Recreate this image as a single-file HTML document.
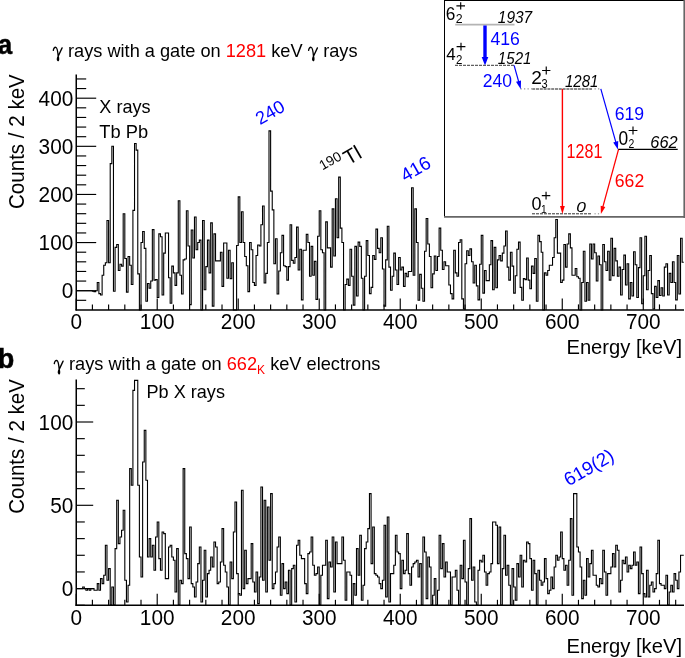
<!DOCTYPE html>
<html><head><meta charset="utf-8"><title>spectra</title>
<style>html,body{margin:0;padding:0;background:#fff;width:685px;height:658px;overflow:hidden}svg{display:block;will-change:transform}</style>
</head><body>
<svg width="685" height="658" viewBox="0 0 685 658">
<style>
text{font-family:"Liberation Sans", sans-serif;}
.ax{stroke:#000;stroke-width:1.15;fill:none}
.lab{font-size:20.8px}
.h{stroke:#000;stroke-width:1.1;fill:none}
.g{font-family:"Liberation Serif",serif;font-style:italic;font-size:20px}
</style><text transform="translate(-2,54.4) scale(0.93,1)" style="font-size:27.4px;font-weight:bold" stroke="#000" stroke-width="0.5">a</text><path transform="translate(53,56.8)" d="M0.3,-6.4 C0.6,-8.6 1.6,-9.7 2.8,-9.5 C4.3,-9.2 4.8,-5.5 5.2,-0.6 M9.1,-8.9 L5.2,-0.6 C4.4,1.2 4.2,3.2 4.9,3.7 C5.6,4.1 5.9,2.0 5.2,-0.6" stroke="#000" stroke-width="1.35" fill="none" stroke-linecap="round"/><text x="68" y="56.8" style="font-size:18.2px">rays with a gate on <tspan fill="#ff0000">1281</tspan> keV</text><path transform="translate(308.3,56.8)" d="M0.3,-6.4 C0.6,-8.6 1.6,-9.7 2.8,-9.5 C4.3,-9.2 4.8,-5.5 5.2,-0.6 M9.1,-8.9 L5.2,-0.6 C4.4,1.2 4.2,3.2 4.9,3.7 C5.6,4.1 5.9,2.0 5.2,-0.6" stroke="#000" stroke-width="1.35" fill="none" stroke-linecap="round"/><text x="323.2" y="56.8" style="font-size:18.2px">rays</text><path class="h" d="M76.20,290.70 L77.82,290.70 L77.82,290.70 L79.44,290.70 L79.44,290.70 L81.06,290.70 L81.06,290.70 L82.68,290.70 L82.68,290.70 L84.30,290.70 L84.30,290.70 L85.92,290.70 L85.92,290.70 L87.54,290.70 L87.54,290.70 L89.16,290.70 L89.16,290.70 L90.78,290.70 L90.78,290.70 L92.40,290.70 L92.40,291.18 L94.02,291.18 L94.02,291.66 L95.64,291.66 L95.64,290.70 L97.26,290.70 L97.26,282.52 L98.88,282.52 L98.88,293.59 L100.50,293.59 L100.50,295.03 L102.12,295.03 L102.12,275.30 L103.74,275.30 L103.74,265.19 L105.36,265.19 L105.36,262.79 L106.98,262.79 L106.98,220.44 L108.60,220.44 L108.60,262.79 L110.22,262.79 L110.22,163.65 L111.84,163.65 L111.84,146.32 L113.46,146.32 L113.46,291.18 L115.08,291.18 L115.08,247.39 L116.71,247.39 L116.71,244.50 L118.33,244.50 L118.33,270.49 L119.95,270.49 L119.95,264.23 L121.57,264.23 L121.57,266.16 L123.19,266.16 L123.19,213.70 L124.81,213.70 L124.81,258.46 L126.43,258.46 L126.43,292.14 L128.05,292.14 L128.05,256.53 L129.67,256.53 L129.67,265.19 L131.29,265.19 L131.29,284.44 L132.91,284.44 L132.91,210.33 L134.53,210.33 L134.53,143.44 L136.15,143.44 L136.15,150.17 L137.77,150.17 L137.77,273.86 L139.39,273.86 L139.39,309.95 L141.01,309.95 L141.01,242.57 L142.63,242.57 L142.63,231.51 L144.25,231.51 L144.25,248.35 L145.87,248.35 L145.87,301.29 L147.49,301.29 L147.49,283.48 L149.11,283.48 L149.11,288.29 L150.73,288.29 L150.73,281.07 L152.35,281.07 L152.35,229.58 L153.97,229.58 L153.97,280.11 L155.59,280.11 L155.59,279.63 L157.21,279.63 L157.21,297.44 L158.83,297.44 L158.83,233.91 L160.45,233.91 L160.45,236.80 L162.07,236.80 L162.07,295.03 L163.69,295.03 L163.69,253.16 L165.31,253.16 L165.31,232.95 L166.93,232.95 L166.93,232.95 L168.55,232.95 L168.55,277.71 L170.17,277.71 L170.17,303.21 L171.79,303.21 L171.79,266.16 L173.41,266.16 L173.41,272.89 L175.03,272.89 L175.03,285.41 L176.65,285.41 L176.65,272.89 L178.27,272.89 L178.27,200.71 L179.89,200.71 L179.89,275.30 L181.51,275.30 L181.51,294.07 L183.13,294.07 L183.13,259.90 L184.75,259.90 L184.75,258.94 L186.37,258.94 L186.37,210.81 L187.99,210.81 L187.99,245.94 L189.61,245.94 L189.61,304.66 L191.23,304.66 L191.23,230.06 L192.85,230.06 L192.85,257.97 L194.47,257.97 L194.47,217.07 L196.09,217.07 L196.09,249.79 L197.72,249.79 L197.72,242.57 L199.34,242.57 L199.34,240.17 L200.96,240.17 L200.96,309.95 L202.58,309.95 L202.58,220.44 L204.20,220.44 L204.20,289.74 L205.82,289.74 L205.82,266.64 L207.44,266.64 L207.44,240.17 L209.06,240.17 L209.06,272.89 L210.68,272.89 L210.68,222.84 L212.30,222.84 L212.30,306.10 L213.92,306.10 L213.92,233.91 L215.54,233.91 L215.54,260.86 L217.16,260.86 L217.16,260.86 L218.78,260.86 L218.78,260.86 L220.40,260.86 L220.40,252.20 L222.02,252.20 L222.02,286.37 L223.64,286.37 L223.64,243.06 L225.26,243.06 L225.26,243.06 L226.88,243.06 L226.88,278.19 L228.50,278.19 L228.50,250.27 L230.12,250.27 L230.12,278.67 L231.74,278.67 L231.74,262.79 L233.36,262.79 L233.36,309.95 L234.98,309.95 L234.98,309.95 L236.60,309.95 L236.60,245.46 L238.22,245.46 L238.22,196.86 L239.84,196.86 L239.84,242.57 L241.46,242.57 L241.46,211.77 L243.08,211.77 L243.08,242.57 L244.70,242.57 L244.70,256.53 L246.32,256.53 L246.32,265.68 L247.94,265.68 L247.94,291.66 L249.56,291.66 L249.56,242.57 L251.18,242.57 L251.18,249.79 L252.80,249.79 L252.80,282.52 L254.42,282.52 L254.42,285.41 L256.04,285.41 L256.04,255.57 L257.66,255.57 L257.66,244.98 L259.28,244.98 L259.28,245.94 L260.90,245.94 L260.90,224.77 L262.52,224.77 L262.52,206.00 L264.14,206.00 L264.14,283.00 L265.76,283.00 L265.76,273.38 L267.38,273.38 L267.38,242.57 L269.00,242.57 L269.00,130.92 L270.62,130.92 L270.62,191.08 L272.24,191.08 L272.24,209.85 L273.86,209.85 L273.86,263.75 L275.48,263.75 L275.48,238.72 L277.10,238.72 L277.10,294.07 L278.73,294.07 L278.73,270.97 L280.35,270.97 L280.35,252.68 L281.97,252.68 L281.97,235.36 L283.59,235.36 L283.59,265.68 L285.21,265.68 L285.21,266.64 L286.83,266.64 L286.83,280.11 L288.45,280.11 L288.45,266.64 L290.07,266.64 L290.07,224.77 L291.69,224.77 L291.69,260.38 L293.31,260.38 L293.31,263.27 L294.93,263.27 L294.93,257.49 L296.55,257.49 L296.55,227.17 L298.17,227.17 L298.17,270.01 L299.79,270.01 L299.79,249.31 L301.41,249.31 L301.41,299.84 L303.03,299.84 L303.03,250.27 L304.65,250.27 L304.65,250.27 L306.27,250.27 L306.27,234.39 L307.89,234.39 L307.89,242.57 L309.51,242.57 L309.51,276.26 L311.13,276.26 L311.13,246.42 L312.75,246.42 L312.75,275.30 L314.37,275.30 L314.37,261.34 L315.99,261.34 L315.99,299.36 L317.61,299.36 L317.61,236.32 L319.23,236.32 L319.23,210.81 L320.85,210.81 L320.85,249.79 L322.47,249.79 L322.47,252.68 L324.09,252.68 L324.09,309.95 L325.71,309.95 L325.71,221.88 L327.33,221.88 L327.33,247.87 L328.95,247.87 L328.95,247.87 L330.57,247.87 L330.57,267.12 L332.19,267.12 L332.19,208.89 L333.81,208.89 L333.81,256.05 L335.43,256.05 L335.43,198.78 L337.05,198.78 L337.05,237.76 L338.67,237.76 L338.67,177.12 L340.29,177.12 L340.29,228.14 L341.91,228.14 L341.91,242.57 L343.53,242.57 L343.53,309.95 L345.15,309.95 L345.15,284.44 L346.77,284.44 L346.77,279.15 L348.39,279.15 L348.39,285.41 L350.01,285.41 L350.01,249.31 L351.63,249.31 L351.63,276.26 L353.25,276.26 L353.25,305.14 L354.87,305.14 L354.87,246.42 L356.49,246.42 L356.49,295.99 L358.11,295.99 L358.11,242.09 L359.74,242.09 L359.74,246.42 L361.36,246.42 L361.36,278.19 L362.98,278.19 L362.98,309.95 L364.60,309.95 L364.60,276.26 L366.22,276.26 L366.22,240.65 L367.84,240.65 L367.84,255.57 L369.46,255.57 L369.46,293.59 L371.08,293.59 L371.08,287.33 L372.70,287.33 L372.70,255.57 L374.32,255.57 L374.32,259.42 L375.94,259.42 L375.94,229.10 L377.56,229.10 L377.56,248.35 L379.18,248.35 L379.18,252.68 L380.80,252.68 L380.80,237.76 L382.42,237.76 L382.42,269.04 L384.04,269.04 L384.04,306.10 L385.66,306.10 L385.66,259.90 L387.28,259.90 L387.28,226.21 L388.90,226.21 L388.90,267.12 L390.52,267.12 L390.52,290.22 L392.14,290.22 L392.14,276.26 L393.76,276.26 L393.76,253.16 L395.38,253.16 L395.38,270.01 L397.00,270.01 L397.00,284.44 L398.62,284.44 L398.62,257.49 L400.24,257.49 L400.24,270.01 L401.86,270.01 L401.86,267.12 L403.48,267.12 L403.48,286.37 L405.10,286.37 L405.10,273.38 L406.72,273.38 L406.72,276.74 L408.34,276.74 L408.34,271.45 L409.96,271.45 L409.96,271.45 L411.58,271.45 L411.58,187.71 L413.20,187.71 L413.20,275.30 L414.82,275.30 L414.82,208.89 L416.44,208.89 L416.44,242.57 L418.06,242.57 L418.06,300.32 L419.68,300.32 L419.68,274.34 L421.30,274.34 L421.30,288.29 L422.92,288.29 L422.92,301.29 L424.54,301.29 L424.54,251.24 L426.16,251.24 L426.16,218.51 L427.78,218.51 L427.78,244.02 L429.40,244.02 L429.40,256.53 L431.02,256.53 L431.02,287.81 L432.64,287.81 L432.64,273.86 L434.26,273.86 L434.26,256.05 L435.88,256.05 L435.88,270.49 L437.50,270.49 L437.50,256.53 L439.12,256.53 L439.12,228.14 L440.75,228.14 L440.75,250.27 L442.37,250.27 L442.37,269.52 L443.99,269.52 L443.99,261.82 L445.61,261.82 L445.61,265.68 L447.23,265.68 L447.23,265.68 L448.85,265.68 L448.85,284.93 L450.47,284.93 L450.47,293.59 L452.09,293.59 L452.09,298.88 L453.71,298.88 L453.71,250.27 L455.33,250.27 L455.33,272.89 L456.95,272.89 L456.95,276.26 L458.57,276.26 L458.57,242.57 L460.19,242.57 L460.19,239.69 L461.81,239.69 L461.81,298.88 L463.43,298.88 L463.43,308.99 L465.05,308.99 L465.05,263.75 L466.67,263.75 L466.67,250.76 L468.29,250.76 L468.29,255.57 L469.91,255.57 L469.91,248.83 L471.53,248.83 L471.53,261.82 L473.15,261.82 L473.15,283.00 L474.77,283.00 L474.77,265.19 L476.39,265.19 L476.39,285.89 L478.01,285.89 L478.01,299.84 L479.63,299.84 L479.63,264.23 L481.25,264.23 L481.25,235.36 L482.87,235.36 L482.87,293.11 L484.49,293.11 L484.49,270.49 L486.11,270.49 L486.11,280.59 L487.73,280.59 L487.73,280.59 L489.35,280.59 L489.35,264.71 L490.97,264.71 L490.97,240.65 L492.59,240.65 L492.59,289.74 L494.21,289.74 L494.21,247.39 L495.83,247.39 L495.83,287.81 L497.45,287.81 L497.45,259.90 L499.07,259.90 L499.07,255.57 L500.69,255.57 L500.69,260.86 L502.31,260.86 L502.31,253.16 L503.93,253.16 L503.93,245.94 L505.55,245.94 L505.55,231.02 L507.17,231.02 L507.17,267.12 L508.79,267.12 L508.79,280.11 L510.41,280.11 L510.41,252.20 L512.03,252.20 L512.03,266.16 L513.65,266.16 L513.65,293.11 L515.27,293.11 L515.27,275.78 L516.89,275.78 L516.89,249.31 L518.51,249.31 L518.51,242.09 L520.13,242.09 L520.13,287.33 L521.75,287.33 L521.75,300.32 L523.38,300.32 L523.38,278.67 L525.00,278.67 L525.00,279.63 L526.62,279.63 L526.62,257.97 L528.24,257.97 L528.24,280.11 L529.86,280.11 L529.86,288.77 L531.48,288.77 L531.48,266.16 L533.10,266.16 L533.10,273.38 L534.72,273.38 L534.72,258.46 L536.34,258.46 L536.34,301.29 L537.96,301.29 L537.96,235.36 L539.58,235.36 L539.58,241.61 L541.20,241.61 L541.20,252.20 L542.82,252.20 L542.82,309.95 L544.44,309.95 L544.44,272.89 L546.06,272.89 L546.06,275.30 L547.68,275.30 L547.68,270.49 L549.30,270.49 L549.30,265.19 L550.92,265.19 L550.92,265.19 L552.54,265.19 L552.54,257.49 L554.16,257.49 L554.16,237.76 L555.78,237.76 L555.78,219.47 L557.40,219.47 L557.40,253.16 L559.02,253.16 L559.02,253.16 L560.64,253.16 L560.64,282.52 L562.26,282.52 L562.26,280.11 L563.88,280.11 L563.88,244.50 L565.50,244.50 L565.50,267.12 L567.12,267.12 L567.12,244.02 L568.74,244.02 L568.74,233.91 L570.36,233.91 L570.36,247.87 L571.98,247.87 L571.98,275.30 L573.60,275.30 L573.60,275.30 L575.22,275.30 L575.22,268.56 L576.84,268.56 L576.84,276.74 L578.46,276.74 L578.46,278.19 L580.08,278.19 L580.08,309.95 L581.70,309.95 L581.70,282.52 L583.32,282.52 L583.32,251.24 L584.94,251.24 L584.94,301.29 L586.56,301.29 L586.56,282.52 L588.18,282.52 L588.18,300.32 L589.80,300.32 L589.80,244.02 L591.42,244.02 L591.42,258.94 L593.04,258.94 L593.04,244.02 L594.66,244.02 L594.66,252.68 L596.28,252.68 L596.28,281.07 L597.90,281.07 L597.90,256.05 L599.52,256.05 L599.52,264.71 L601.14,264.71 L601.14,309.95 L602.77,309.95 L602.77,244.50 L604.39,244.50 L604.39,261.82 L606.01,261.82 L606.01,270.49 L607.63,270.49 L607.63,251.24 L609.25,251.24 L609.25,280.11 L610.87,280.11 L610.87,238.24 L612.49,238.24 L612.49,275.78 L614.11,275.78 L614.11,248.35 L615.73,248.35 L615.73,260.86 L617.35,260.86 L617.35,276.26 L618.97,276.26 L618.97,267.12 L620.59,267.12 L620.59,295.03 L622.21,295.03 L622.21,269.52 L623.83,269.52 L623.83,255.09 L625.45,255.09 L625.45,284.93 L627.07,284.93 L627.07,263.75 L628.69,263.75 L628.69,298.88 L630.31,298.88 L630.31,282.52 L631.93,282.52 L631.93,295.99 L633.55,295.99 L633.55,251.72 L635.17,251.72 L635.17,264.71 L636.79,264.71 L636.79,297.44 L638.41,297.44 L638.41,267.60 L640.03,267.60 L640.03,237.76 L641.65,237.76 L641.65,303.69 L643.27,303.69 L643.27,275.78 L644.89,275.78 L644.89,236.32 L646.51,236.32 L646.51,289.74 L648.13,289.74 L648.13,270.49 L649.75,270.49 L649.75,255.57 L651.37,255.57 L651.37,293.59 L652.99,293.59 L652.99,308.99 L654.61,308.99 L654.61,286.37 L656.23,286.37 L656.23,297.44 L657.85,297.44 L657.85,280.59 L659.47,280.59 L659.47,295.51 L661.09,295.51 L661.09,287.81 L662.71,287.81 L662.71,295.99 L664.33,295.99 L664.33,267.12 L665.95,267.12 L665.95,263.75 L667.57,263.75 L667.57,295.03 L669.19,295.03 L669.19,273.38 L670.81,273.38 L670.81,282.52 L672.43,282.52 L672.43,261.82 L674.05,261.82 L674.05,282.52 L675.67,282.52 L675.67,299.84 L677.29,299.84 L677.29,255.57 L678.91,255.57 L678.91,294.07 L680.53,294.07 L680.53,238.24 L682.15,238.24 L682.15,262.31 L683.78,262.31"/><line x1="76.25" y1="74.5" x2="76.25" y2="310.59999999999997" class="ax" style="stroke-width:1.5"/>
<line x1="75.5" y1="309.9" x2="684" y2="309.9" class="ax" style="stroke-width:1.5"/>
<line x1="76.5" y1="300.32" x2="86.2" y2="300.32" class="ax"/>
<line x1="76.5" y1="290.70" x2="96.2" y2="290.70" class="ax"/>
<line x1="76.5" y1="281.07" x2="86.2" y2="281.07" class="ax"/>
<line x1="76.5" y1="271.45" x2="86.2" y2="271.45" class="ax"/>
<line x1="76.5" y1="261.82" x2="86.2" y2="261.82" class="ax"/>
<line x1="76.5" y1="252.20" x2="86.2" y2="252.20" class="ax"/>
<line x1="76.5" y1="242.57" x2="96.2" y2="242.57" class="ax"/>
<line x1="76.5" y1="232.95" x2="86.2" y2="232.95" class="ax"/>
<line x1="76.5" y1="223.32" x2="86.2" y2="223.32" class="ax"/>
<line x1="76.5" y1="213.70" x2="86.2" y2="213.70" class="ax"/>
<line x1="76.5" y1="204.07" x2="86.2" y2="204.07" class="ax"/>
<line x1="76.5" y1="194.45" x2="96.2" y2="194.45" class="ax"/>
<line x1="76.5" y1="184.82" x2="86.2" y2="184.82" class="ax"/>
<line x1="76.5" y1="175.20" x2="86.2" y2="175.20" class="ax"/>
<line x1="76.5" y1="165.57" x2="86.2" y2="165.57" class="ax"/>
<line x1="76.5" y1="155.95" x2="86.2" y2="155.95" class="ax"/>
<line x1="76.5" y1="146.32" x2="96.2" y2="146.32" class="ax"/>
<line x1="76.5" y1="136.70" x2="86.2" y2="136.70" class="ax"/>
<line x1="76.5" y1="127.07" x2="86.2" y2="127.07" class="ax"/>
<line x1="76.5" y1="117.45" x2="86.2" y2="117.45" class="ax"/>
<line x1="76.5" y1="107.82" x2="86.2" y2="107.82" class="ax"/>
<line x1="76.5" y1="98.20" x2="96.2" y2="98.20" class="ax"/>
<line x1="76.5" y1="88.57" x2="86.2" y2="88.57" class="ax"/>
<line x1="76.5" y1="78.95" x2="86.2" y2="78.95" class="ax"/>
<line x1="76.20" y1="309.9" x2="76.20" y2="298.4" class="ax"/>
<line x1="92.40" y1="309.9" x2="92.40" y2="304.4" class="ax"/>
<line x1="108.60" y1="309.9" x2="108.60" y2="304.4" class="ax"/>
<line x1="124.81" y1="309.9" x2="124.81" y2="304.4" class="ax"/>
<line x1="141.01" y1="309.9" x2="141.01" y2="304.4" class="ax"/>
<line x1="157.21" y1="309.9" x2="157.21" y2="298.4" class="ax"/>
<line x1="173.41" y1="309.9" x2="173.41" y2="304.4" class="ax"/>
<line x1="189.61" y1="309.9" x2="189.61" y2="304.4" class="ax"/>
<line x1="205.82" y1="309.9" x2="205.82" y2="304.4" class="ax"/>
<line x1="222.02" y1="309.9" x2="222.02" y2="304.4" class="ax"/>
<line x1="238.22" y1="309.9" x2="238.22" y2="298.4" class="ax"/>
<line x1="254.42" y1="309.9" x2="254.42" y2="304.4" class="ax"/>
<line x1="270.62" y1="309.9" x2="270.62" y2="304.4" class="ax"/>
<line x1="286.83" y1="309.9" x2="286.83" y2="304.4" class="ax"/>
<line x1="303.03" y1="309.9" x2="303.03" y2="304.4" class="ax"/>
<line x1="319.23" y1="309.9" x2="319.23" y2="298.4" class="ax"/>
<line x1="335.43" y1="309.9" x2="335.43" y2="304.4" class="ax"/>
<line x1="351.63" y1="309.9" x2="351.63" y2="304.4" class="ax"/>
<line x1="367.84" y1="309.9" x2="367.84" y2="304.4" class="ax"/>
<line x1="384.04" y1="309.9" x2="384.04" y2="304.4" class="ax"/>
<line x1="400.24" y1="309.9" x2="400.24" y2="298.4" class="ax"/>
<line x1="416.44" y1="309.9" x2="416.44" y2="304.4" class="ax"/>
<line x1="432.64" y1="309.9" x2="432.64" y2="304.4" class="ax"/>
<line x1="448.85" y1="309.9" x2="448.85" y2="304.4" class="ax"/>
<line x1="465.05" y1="309.9" x2="465.05" y2="304.4" class="ax"/>
<line x1="481.25" y1="309.9" x2="481.25" y2="298.4" class="ax"/>
<line x1="497.45" y1="309.9" x2="497.45" y2="304.4" class="ax"/>
<line x1="513.65" y1="309.9" x2="513.65" y2="304.4" class="ax"/>
<line x1="529.86" y1="309.9" x2="529.86" y2="304.4" class="ax"/>
<line x1="546.06" y1="309.9" x2="546.06" y2="304.4" class="ax"/>
<line x1="562.26" y1="309.9" x2="562.26" y2="298.4" class="ax"/>
<line x1="578.46" y1="309.9" x2="578.46" y2="304.4" class="ax"/>
<line x1="594.66" y1="309.9" x2="594.66" y2="304.4" class="ax"/>
<line x1="610.87" y1="309.9" x2="610.87" y2="304.4" class="ax"/>
<line x1="627.07" y1="309.9" x2="627.07" y2="304.4" class="ax"/>
<line x1="643.27" y1="309.9" x2="643.27" y2="298.4" class="ax"/>
<line x1="659.47" y1="309.9" x2="659.47" y2="304.4" class="ax"/>
<line x1="675.67" y1="309.9" x2="675.67" y2="304.4" class="ax"/>
<text transform="translate(73.3,298.30) scale(1,1.04)" class="lab" text-anchor="end">0</text>
<text transform="translate(73.3,250.17) scale(1,1.04)" class="lab" text-anchor="end">100</text>
<text transform="translate(73.3,202.05) scale(1,1.04)" class="lab" text-anchor="end">200</text>
<text transform="translate(73.3,153.92) scale(1,1.04)" class="lab" text-anchor="end">300</text>
<text transform="translate(73.3,105.80) scale(1,1.04)" class="lab" text-anchor="end">400</text>
<text transform="translate(76.20,329.20) scale(1,1.1)" class="lab" text-anchor="middle">0</text>
<text transform="translate(157.21,329.20) scale(1,1.1)" class="lab" text-anchor="middle">100</text>
<text transform="translate(238.22,329.20) scale(1,1.1)" class="lab" text-anchor="middle">200</text>
<text transform="translate(319.23,329.20) scale(1,1.1)" class="lab" text-anchor="middle">300</text>
<text transform="translate(400.24,329.20) scale(1,1.1)" class="lab" text-anchor="middle">400</text>
<text transform="translate(481.25,329.20) scale(1,1.1)" class="lab" text-anchor="middle">500</text>
<text transform="translate(562.26,329.20) scale(1,1.1)" class="lab" text-anchor="middle">600</text>
<text transform="translate(643.27,329.20) scale(1,1.1)" class="lab" text-anchor="middle">700</text><text transform="translate(24,74.2) rotate(-90) scale(1,1.07)" text-anchor="end" style="font-size:20.56px">Counts / 2 keV</text><text x="682" y="353.7" text-anchor="end" style="font-size:20.2px">Energy [keV]</text><text transform="translate(99.3,112.9) scale(1,1.05)" style="font-size:18.1px">X rays</text><text transform="translate(99.3,137.9) scale(1,1.04)" style="font-size:18.3px">Tb Pb</text><text transform="translate(260,125.3) rotate(-30)" style="font-size:18.2px" fill="#0000ff">240</text><text transform="translate(322.6,170.6) rotate(-30)" style="font-size:13.8px">190<tspan dx="2" dy="8.5" style="font-size:20.5px">Tl</tspan></text><text transform="translate(405.2,182.3) rotate(-30)" style="font-size:18.8px" fill="#0000ff">416</text><text transform="translate(-2.3,367.6)" style="font-size:27px;font-weight:bold" stroke="#000" stroke-width="0.5">b</text><path transform="translate(54,370)" d="M0.3,-6.4 C0.6,-8.6 1.6,-9.7 2.8,-9.5 C4.3,-9.2 4.8,-5.5 5.2,-0.6 M9.1,-8.9 L5.2,-0.6 C4.4,1.2 4.2,3.2 4.9,3.7 C5.6,4.1 5.9,2.0 5.2,-0.6" stroke="#000" stroke-width="1.35" fill="none" stroke-linecap="round"/><text x="69" y="370" style="font-size:18.2px">rays with a gate on <tspan fill="#ff0000">662<tspan style="font-size:12px" dy="4">K</tspan></tspan><tspan dy="-4"> keV electrons</tspan></text><path class="h" d="M76.20,588.60 L77.82,588.60 L77.82,588.60 L79.44,588.60 L79.44,588.60 L81.06,588.60 L81.06,588.60 L82.68,588.60 L82.68,586.93 L84.30,586.93 L84.30,588.60 L85.92,588.60 L85.92,590.27 L87.54,590.27 L87.54,588.60 L89.16,588.60 L89.16,590.27 L90.78,590.27 L90.78,588.60 L92.40,588.60 L92.40,588.60 L94.02,588.60 L94.02,590.27 L95.64,590.27 L95.64,590.27 L97.26,590.27 L97.26,583.60 L98.88,583.60 L98.88,590.27 L100.50,590.27 L100.50,578.60 L102.12,578.60 L102.12,583.60 L103.74,583.60 L103.74,575.27 L105.36,575.27 L105.36,545.28 L106.98,545.28 L106.98,580.27 L108.60,580.27 L108.60,568.61 L110.22,568.61 L110.22,605.00 L111.84,605.00 L111.84,586.93 L113.46,586.93 L113.46,605.00 L115.08,605.00 L115.08,548.62 L116.71,548.62 L116.71,500.30 L118.33,500.30 L118.33,543.62 L119.95,543.62 L119.95,536.95 L121.57,536.95 L121.57,530.29 L123.19,530.29 L123.19,510.30 L124.81,510.30 L124.81,580.27 L126.43,580.27 L126.43,601.93 L128.05,601.93 L128.05,585.27 L129.67,585.27 L129.67,468.65 L131.29,468.65 L131.29,485.31 L132.91,485.31 L132.91,390.35 L134.53,390.35 L134.53,380.35 L136.15,380.35 L136.15,380.35 L137.77,380.35 L137.77,485.31 L139.39,485.31 L139.39,556.95 L141.01,556.95 L141.01,576.94 L142.63,576.94 L142.63,461.98 L144.25,461.98 L144.25,430.33 L145.87,430.33 L145.87,480.31 L147.49,480.31 L147.49,556.95 L149.11,556.95 L149.11,538.62 L150.73,538.62 L150.73,556.95 L152.35,556.95 L152.35,545.28 L153.97,545.28 L153.97,570.27 L155.59,570.27 L155.59,536.95 L157.21,536.95 L157.21,521.96 L158.83,521.96 L158.83,558.61 L160.45,558.61 L160.45,570.27 L162.07,570.27 L162.07,531.96 L163.69,531.96 L163.69,533.62 L165.31,533.62 L165.31,578.60 L166.93,578.60 L166.93,578.60 L168.55,578.60 L168.55,546.95 L170.17,546.95 L170.17,545.28 L171.79,545.28 L171.79,556.95 L173.41,556.95 L173.41,560.28 L175.03,560.28 L175.03,591.93 L176.65,591.93 L176.65,548.62 L178.27,548.62 L178.27,605.00 L179.89,605.00 L179.89,580.27 L181.51,580.27 L181.51,583.60 L183.13,583.60 L183.13,468.65 L184.75,468.65 L184.75,553.61 L186.37,553.61 L186.37,558.61 L187.99,558.61 L187.99,578.60 L189.61,578.60 L189.61,526.96 L191.23,526.96 L191.23,583.60 L192.85,583.60 L192.85,586.93 L194.47,586.93 L194.47,596.93 L196.09,596.93 L196.09,581.94 L197.72,581.94 L197.72,563.61 L199.34,563.61 L199.34,546.95 L200.96,546.95 L200.96,601.93 L202.58,601.93 L202.58,580.27 L204.20,580.27 L204.20,550.28 L205.82,550.28 L205.82,596.93 L207.44,596.93 L207.44,573.61 L209.06,573.61 L209.06,570.27 L210.68,570.27 L210.68,556.95 L212.30,556.95 L212.30,566.94 L213.92,566.94 L213.92,541.95 L215.54,541.95 L215.54,546.95 L217.16,546.95 L217.16,583.60 L218.78,583.60 L218.78,581.94 L220.40,581.94 L220.40,561.94 L222.02,561.94 L222.02,528.62 L223.64,528.62 L223.64,565.28 L225.26,565.28 L225.26,571.94 L226.88,571.94 L226.88,586.93 L228.50,586.93 L228.50,605.00 L230.12,605.00 L230.12,561.94 L231.74,561.94 L231.74,578.60 L233.36,578.60 L233.36,531.96 L234.98,531.96 L234.98,501.97 L236.60,501.97 L236.60,573.61 L238.22,573.61 L238.22,593.60 L239.84,593.60 L239.84,595.26 L241.46,595.26 L241.46,490.31 L243.08,490.31 L243.08,588.60 L244.70,588.60 L244.70,550.28 L246.32,550.28 L246.32,583.60 L247.94,583.60 L247.94,578.60 L249.56,578.60 L249.56,578.60 L251.18,578.60 L251.18,543.62 L252.80,543.62 L252.80,581.94 L254.42,581.94 L254.42,591.93 L256.04,591.93 L256.04,571.94 L257.66,571.94 L257.66,603.59 L259.28,603.59 L259.28,576.94 L260.90,576.94 L260.90,486.97 L262.52,486.97 L262.52,580.27 L264.14,580.27 L264.14,500.30 L265.76,500.30 L265.76,591.93 L267.38,591.93 L267.38,506.97 L269.00,506.97 L269.00,560.28 L270.62,560.28 L270.62,493.64 L272.24,493.64 L272.24,588.60 L273.86,588.60 L273.86,583.60 L275.48,583.60 L275.48,571.94 L277.10,571.94 L277.10,546.95 L278.73,546.95 L278.73,536.95 L280.35,536.95 L280.35,595.26 L281.97,595.26 L281.97,563.61 L283.59,563.61 L283.59,588.60 L285.21,588.60 L285.21,581.94 L286.83,581.94 L286.83,593.60 L288.45,593.60 L288.45,570.27 L290.07,570.27 L290.07,605.00 L291.69,605.00 L291.69,568.61 L293.31,568.61 L293.31,565.28 L294.93,565.28 L294.93,601.93 L296.55,601.93 L296.55,545.28 L298.17,545.28 L298.17,540.29 L299.79,540.29 L299.79,555.28 L301.41,555.28 L301.41,558.61 L303.03,558.61 L303.03,558.61 L304.65,558.61 L304.65,583.60 L306.27,583.60 L306.27,593.60 L307.89,593.60 L307.89,553.61 L309.51,553.61 L309.51,551.95 L311.13,551.95 L311.13,536.95 L312.75,536.95 L312.75,565.28 L314.37,565.28 L314.37,575.27 L315.99,575.27 L315.99,573.61 L317.61,573.61 L317.61,566.94 L319.23,566.94 L319.23,605.00 L320.85,605.00 L320.85,575.27 L322.47,575.27 L322.47,565.28 L324.09,565.28 L324.09,565.28 L325.71,565.28 L325.71,540.29 L327.33,540.29 L327.33,598.60 L328.95,598.60 L328.95,561.94 L330.57,561.94 L330.57,566.94 L332.19,566.94 L332.19,536.95 L333.81,536.95 L333.81,591.93 L335.43,591.93 L335.43,541.95 L337.05,541.95 L337.05,563.61 L338.67,563.61 L338.67,563.61 L340.29,563.61 L340.29,563.61 L341.91,563.61 L341.91,536.95 L343.53,536.95 L343.53,560.28 L345.15,560.28 L345.15,600.26 L346.77,600.26 L346.77,571.94 L348.39,571.94 L348.39,571.94 L350.01,571.94 L350.01,575.27 L351.63,575.27 L351.63,605.00 L353.25,605.00 L353.25,583.60 L354.87,583.60 L354.87,595.26 L356.49,595.26 L356.49,548.62 L358.11,548.62 L358.11,575.27 L359.74,575.27 L359.74,535.29 L361.36,535.29 L361.36,600.26 L362.98,600.26 L362.98,585.27 L364.60,585.27 L364.60,548.62 L366.22,548.62 L366.22,541.95 L367.84,541.95 L367.84,528.62 L369.46,528.62 L369.46,493.64 L371.08,493.64 L371.08,563.61 L372.70,563.61 L372.70,526.96 L374.32,526.96 L374.32,573.61 L375.94,573.61 L375.94,575.27 L377.56,575.27 L377.56,576.94 L379.18,576.94 L379.18,583.60 L380.80,583.60 L380.80,588.60 L382.42,588.60 L382.42,580.27 L384.04,580.27 L384.04,525.29 L385.66,525.29 L385.66,596.93 L387.28,596.93 L387.28,516.96 L388.90,516.96 L388.90,601.93 L390.52,601.93 L390.52,573.61 L392.14,573.61 L392.14,573.61 L393.76,573.61 L393.76,565.28 L395.38,565.28 L395.38,535.29 L397.00,535.29 L397.00,551.95 L398.62,551.95 L398.62,553.61 L400.24,553.61 L400.24,588.60 L401.86,588.60 L401.86,560.28 L403.48,560.28 L403.48,573.61 L405.10,573.61 L405.10,570.27 L406.72,570.27 L406.72,533.62 L408.34,533.62 L408.34,573.61 L409.96,573.61 L409.96,585.27 L411.58,585.27 L411.58,566.94 L413.20,566.94 L413.20,563.61 L414.82,563.61 L414.82,561.94 L416.44,561.94 L416.44,560.28 L418.06,560.28 L418.06,576.94 L419.68,576.94 L419.68,563.61 L421.30,563.61 L421.30,605.00 L422.92,605.00 L422.92,536.95 L424.54,536.95 L424.54,551.95 L426.16,551.95 L426.16,598.60 L427.78,598.60 L427.78,556.95 L429.40,556.95 L429.40,566.94 L431.02,566.94 L431.02,605.00 L432.64,605.00 L432.64,595.26 L434.26,595.26 L434.26,578.60 L435.88,578.60 L435.88,605.00 L437.50,605.00 L437.50,590.27 L439.12,590.27 L439.12,535.29 L440.75,535.29 L440.75,568.61 L442.37,568.61 L442.37,543.62 L443.99,543.62 L443.99,576.94 L445.61,576.94 L445.61,561.94 L447.23,561.94 L447.23,571.94 L448.85,571.94 L448.85,571.94 L450.47,571.94 L450.47,605.00 L452.09,605.00 L452.09,576.94 L453.71,576.94 L453.71,576.94 L455.33,576.94 L455.33,570.27 L456.95,570.27 L456.95,590.27 L458.57,590.27 L458.57,605.00 L460.19,605.00 L460.19,565.28 L461.81,565.28 L461.81,578.60 L463.43,578.60 L463.43,540.29 L465.05,540.29 L465.05,581.94 L466.67,581.94 L466.67,605.00 L468.29,605.00 L468.29,568.61 L469.91,568.61 L469.91,518.63 L471.53,518.63 L471.53,580.27 L473.15,580.27 L473.15,566.94 L474.77,566.94 L474.77,601.93 L476.39,601.93 L476.39,605.00 L478.01,605.00 L478.01,570.27 L479.63,570.27 L479.63,560.28 L481.25,560.28 L481.25,561.94 L482.87,561.94 L482.87,555.28 L484.49,555.28 L484.49,571.94 L486.11,571.94 L486.11,585.27 L487.73,585.27 L487.73,573.61 L489.35,573.61 L489.35,571.94 L490.97,571.94 L490.97,563.61 L492.59,563.61 L492.59,521.96 L494.21,521.96 L494.21,521.96 L495.83,521.96 L495.83,525.29 L497.45,525.29 L497.45,563.61 L499.07,563.61 L499.07,526.96 L500.69,526.96 L500.69,605.00 L502.31,605.00 L502.31,568.61 L503.93,568.61 L503.93,535.29 L505.55,535.29 L505.55,575.27 L507.17,575.27 L507.17,565.28 L508.79,565.28 L508.79,585.27 L510.41,585.27 L510.41,605.00 L512.03,605.00 L512.03,568.61 L513.65,568.61 L513.65,586.93 L515.27,586.93 L515.27,600.26 L516.89,600.26 L516.89,563.61 L518.51,563.61 L518.51,576.94 L520.13,576.94 L520.13,555.28 L521.75,555.28 L521.75,586.93 L523.38,586.93 L523.38,560.28 L525.00,560.28 L525.00,561.94 L526.62,561.94 L526.62,541.95 L528.24,541.95 L528.24,543.62 L529.86,543.62 L529.86,558.61 L531.48,558.61 L531.48,590.27 L533.10,590.27 L533.10,560.28 L534.72,560.28 L534.72,573.61 L536.34,573.61 L536.34,605.00 L537.96,605.00 L537.96,570.27 L539.58,570.27 L539.58,580.27 L541.20,580.27 L541.20,585.27 L542.82,585.27 L542.82,581.94 L544.44,581.94 L544.44,558.61 L546.06,558.61 L546.06,578.60 L547.68,578.60 L547.68,593.60 L549.30,593.60 L549.30,590.27 L550.92,590.27 L550.92,576.94 L552.54,576.94 L552.54,588.60 L554.16,588.60 L554.16,566.94 L555.78,566.94 L555.78,555.28 L557.40,555.28 L557.40,560.28 L559.02,560.28 L559.02,556.95 L560.64,556.95 L560.64,531.96 L562.26,531.96 L562.26,558.61 L563.88,558.61 L563.88,570.27 L565.50,570.27 L565.50,565.28 L567.12,565.28 L567.12,585.27 L568.74,585.27 L568.74,560.28 L570.36,560.28 L570.36,518.63 L571.98,518.63 L571.98,595.26 L573.60,595.26 L573.60,493.64 L575.22,493.64 L575.22,493.64 L576.84,493.64 L576.84,546.95 L578.46,546.95 L578.46,551.95 L580.08,551.95 L580.08,566.94 L581.70,566.94 L581.70,598.60 L583.32,598.60 L583.32,580.27 L584.94,580.27 L584.94,595.26 L586.56,595.26 L586.56,558.61 L588.18,558.61 L588.18,576.94 L589.80,576.94 L589.80,563.61 L591.42,563.61 L591.42,550.28 L593.04,550.28 L593.04,575.27 L594.66,575.27 L594.66,575.27 L596.28,575.27 L596.28,585.27 L597.90,585.27 L597.90,586.93 L599.52,586.93 L599.52,578.60 L601.14,578.60 L601.14,583.60 L602.77,583.60 L602.77,550.28 L604.39,550.28 L604.39,571.94 L606.01,571.94 L606.01,595.26 L607.63,595.26 L607.63,573.61 L609.25,573.61 L609.25,573.61 L610.87,573.61 L610.87,566.94 L612.49,566.94 L612.49,553.61 L614.11,553.61 L614.11,566.94 L615.73,566.94 L615.73,545.28 L617.35,545.28 L617.35,550.28 L618.97,550.28 L618.97,591.93 L620.59,591.93 L620.59,580.27 L622.21,580.27 L622.21,560.28 L623.83,560.28 L623.83,563.61 L625.45,563.61 L625.45,556.95 L627.07,556.95 L627.07,571.94 L628.69,571.94 L628.69,565.28 L630.31,565.28 L630.31,568.61 L631.93,568.61 L631.93,565.28 L633.55,565.28 L633.55,551.95 L635.17,551.95 L635.17,565.28 L636.79,565.28 L636.79,561.94 L638.41,561.94 L638.41,593.60 L640.03,593.60 L640.03,546.95 L641.65,546.95 L641.65,573.61 L643.27,573.61 L643.27,593.60 L644.89,593.60 L644.89,596.93 L646.51,596.93 L646.51,570.27 L648.13,570.27 L648.13,596.93 L649.75,596.93 L649.75,585.27 L651.37,585.27 L651.37,581.94 L652.99,581.94 L652.99,591.93 L654.61,591.93 L654.61,588.60 L656.23,588.60 L656.23,573.61 L657.85,573.61 L657.85,540.29 L659.47,540.29 L659.47,583.60 L661.09,583.60 L661.09,585.27 L662.71,585.27 L662.71,585.27 L664.33,585.27 L664.33,588.60 L665.95,588.60 L665.95,575.27 L667.57,575.27 L667.57,605.00 L669.19,605.00 L669.19,591.93 L670.81,591.93 L670.81,585.27 L672.43,585.27 L672.43,591.93 L674.05,591.93 L674.05,573.61 L675.67,573.61 L675.67,580.27 L677.29,580.27 L677.29,588.60 L678.91,588.60 L678.91,571.94 L680.53,571.94 L680.53,555.28 L682.15,555.28 L682.15,555.28 L683.78,555.28"/><line x1="76.25" y1="379.6" x2="76.25" y2="606.0" class="ax" style="stroke-width:1.5"/>
<line x1="75.5" y1="605.3" x2="684" y2="605.3" class="ax" style="stroke-width:1.5"/>
<line x1="76.5" y1="605.26" x2="84.8" y2="605.26" class="ax"/>
<line x1="76.5" y1="588.60" x2="93.2" y2="588.60" class="ax"/>
<line x1="76.5" y1="571.94" x2="84.8" y2="571.94" class="ax"/>
<line x1="76.5" y1="555.28" x2="84.8" y2="555.28" class="ax"/>
<line x1="76.5" y1="538.62" x2="84.8" y2="538.62" class="ax"/>
<line x1="76.5" y1="521.96" x2="84.8" y2="521.96" class="ax"/>
<line x1="76.5" y1="505.30" x2="93.2" y2="505.30" class="ax"/>
<line x1="76.5" y1="488.64" x2="84.8" y2="488.64" class="ax"/>
<line x1="76.5" y1="471.98" x2="84.8" y2="471.98" class="ax"/>
<line x1="76.5" y1="455.32" x2="84.8" y2="455.32" class="ax"/>
<line x1="76.5" y1="438.66" x2="84.8" y2="438.66" class="ax"/>
<line x1="76.5" y1="422.00" x2="93.2" y2="422.00" class="ax"/>
<line x1="76.5" y1="405.34" x2="84.8" y2="405.34" class="ax"/>
<line x1="76.5" y1="388.68" x2="84.8" y2="388.68" class="ax"/>
<line x1="76.20" y1="605.3" x2="76.20" y2="593.8" class="ax"/>
<line x1="92.40" y1="605.3" x2="92.40" y2="599.8" class="ax"/>
<line x1="108.60" y1="605.3" x2="108.60" y2="599.8" class="ax"/>
<line x1="124.81" y1="605.3" x2="124.81" y2="599.8" class="ax"/>
<line x1="141.01" y1="605.3" x2="141.01" y2="599.8" class="ax"/>
<line x1="157.21" y1="605.3" x2="157.21" y2="593.8" class="ax"/>
<line x1="173.41" y1="605.3" x2="173.41" y2="599.8" class="ax"/>
<line x1="189.61" y1="605.3" x2="189.61" y2="599.8" class="ax"/>
<line x1="205.82" y1="605.3" x2="205.82" y2="599.8" class="ax"/>
<line x1="222.02" y1="605.3" x2="222.02" y2="599.8" class="ax"/>
<line x1="238.22" y1="605.3" x2="238.22" y2="593.8" class="ax"/>
<line x1="254.42" y1="605.3" x2="254.42" y2="599.8" class="ax"/>
<line x1="270.62" y1="605.3" x2="270.62" y2="599.8" class="ax"/>
<line x1="286.83" y1="605.3" x2="286.83" y2="599.8" class="ax"/>
<line x1="303.03" y1="605.3" x2="303.03" y2="599.8" class="ax"/>
<line x1="319.23" y1="605.3" x2="319.23" y2="593.8" class="ax"/>
<line x1="335.43" y1="605.3" x2="335.43" y2="599.8" class="ax"/>
<line x1="351.63" y1="605.3" x2="351.63" y2="599.8" class="ax"/>
<line x1="367.84" y1="605.3" x2="367.84" y2="599.8" class="ax"/>
<line x1="384.04" y1="605.3" x2="384.04" y2="599.8" class="ax"/>
<line x1="400.24" y1="605.3" x2="400.24" y2="593.8" class="ax"/>
<line x1="416.44" y1="605.3" x2="416.44" y2="599.8" class="ax"/>
<line x1="432.64" y1="605.3" x2="432.64" y2="599.8" class="ax"/>
<line x1="448.85" y1="605.3" x2="448.85" y2="599.8" class="ax"/>
<line x1="465.05" y1="605.3" x2="465.05" y2="599.8" class="ax"/>
<line x1="481.25" y1="605.3" x2="481.25" y2="593.8" class="ax"/>
<line x1="497.45" y1="605.3" x2="497.45" y2="599.8" class="ax"/>
<line x1="513.65" y1="605.3" x2="513.65" y2="599.8" class="ax"/>
<line x1="529.86" y1="605.3" x2="529.86" y2="599.8" class="ax"/>
<line x1="546.06" y1="605.3" x2="546.06" y2="599.8" class="ax"/>
<line x1="562.26" y1="605.3" x2="562.26" y2="593.8" class="ax"/>
<line x1="578.46" y1="605.3" x2="578.46" y2="599.8" class="ax"/>
<line x1="594.66" y1="605.3" x2="594.66" y2="599.8" class="ax"/>
<line x1="610.87" y1="605.3" x2="610.87" y2="599.8" class="ax"/>
<line x1="627.07" y1="605.3" x2="627.07" y2="599.8" class="ax"/>
<line x1="643.27" y1="605.3" x2="643.27" y2="593.8" class="ax"/>
<line x1="659.47" y1="605.3" x2="659.47" y2="599.8" class="ax"/>
<line x1="675.67" y1="605.3" x2="675.67" y2="599.8" class="ax"/>
<text transform="translate(73.3,596.20) scale(1,1.04)" class="lab" text-anchor="end">0</text>
<text transform="translate(73.3,512.90) scale(1,1.04)" class="lab" text-anchor="end">50</text>
<text transform="translate(73.3,429.60) scale(1,1.04)" class="lab" text-anchor="end">100</text>
<text transform="translate(76.20,624.60) scale(1,1.1)" class="lab" text-anchor="middle">0</text>
<text transform="translate(157.21,624.60) scale(1,1.1)" class="lab" text-anchor="middle">100</text>
<text transform="translate(238.22,624.60) scale(1,1.1)" class="lab" text-anchor="middle">200</text>
<text transform="translate(319.23,624.60) scale(1,1.1)" class="lab" text-anchor="middle">300</text>
<text transform="translate(400.24,624.60) scale(1,1.1)" class="lab" text-anchor="middle">400</text>
<text transform="translate(481.25,624.60) scale(1,1.1)" class="lab" text-anchor="middle">500</text>
<text transform="translate(562.26,624.60) scale(1,1.1)" class="lab" text-anchor="middle">600</text>
<text transform="translate(643.27,624.60) scale(1,1.1)" class="lab" text-anchor="middle">700</text><text transform="translate(24,379) rotate(-90) scale(1,1.07)" text-anchor="end" style="font-size:20.56px">Counts / 2 keV</text><text x="682" y="652.7" text-anchor="end" style="font-size:20.2px">Energy [keV]</text><text x="146.5" y="398.4" style="font-size:18.1px">Pb X rays</text><text transform="translate(568.4,486.6) rotate(-30)" style="font-size:18.8px" fill="#0000ff">619(2)</text><rect x="444.5" y="0.5" width="238" height="215.5" fill="#fff" stroke="none"/>
<line x1="444.5" y1="0" x2="444.5" y2="216" stroke="#000" stroke-width="1"/>
<line x1="444" y1="0.5" x2="684" y2="0.5" stroke="#000" stroke-width="1"/>
<line x1="684.2" y1="0" x2="684.2" y2="218" stroke="#666" stroke-width="1.6"/>
<line x1="444" y1="216.9" x2="685" y2="216.9" stroke="#666" stroke-width="1.6"/>
<line x1="455.2" y1="24.7" x2="514.5" y2="24.7" stroke="#b4b4b4" stroke-width="1.8"/>
<line x1="455" y1="65.3" x2="514" y2="65.3" stroke="#222" stroke-width="0.9" stroke-dasharray="3,1"/>
<line x1="520.5" y1="88.9" x2="532" y2="88.9" stroke="#999" stroke-width="1.2" stroke-dasharray="1.3,2.2"/>
<line x1="532.2" y1="88.9" x2="592" y2="88.9" stroke="#666" stroke-width="1.5" stroke-dasharray="3,0.8"/>
<line x1="594.5" y1="88.9" x2="600" y2="88.9" stroke="#999" stroke-width="1.2" stroke-dasharray="1.3,2.2"/>
<line x1="618" y1="149.4" x2="677.7" y2="149.4" stroke="#000" stroke-width="1.1"/>
<line x1="532" y1="213.8" x2="592" y2="213.8" stroke="#333" stroke-width="1" stroke-dasharray="3,1"/>
<line x1="594.5" y1="213.8" x2="600" y2="213.8" stroke="#888" stroke-width="1" stroke-dasharray="1.2,2.2"/>
<line x1="485.00" y1="25.50" x2="485.00" y2="60.40" stroke="#0000ff" stroke-width="3.4"/><polygon points="481.70,57.00 488.30,57.00 485.00,65.50" fill="#0000ff"/>
<line x1="514.10" y1="65.30" x2="519.43" y2="84.39" stroke="#0000ff" stroke-width="1.2"/><polygon points="516.01,81.81 521.02,80.41 520.80,89.30" fill="#0000ff"/>
<line x1="562.40" y1="88.90" x2="562.40" y2="209.30" stroke="#ff0000" stroke-width="1.4"/><polygon points="560.00,206.10 564.80,206.10 562.40,214.10" fill="#ff0000"/>
<line x1="600.80" y1="88.90" x2="616.60" y2="144.88" stroke="#0000ff" stroke-width="1.2"/><polygon points="613.23,142.51 618.23,141.09 617.90,149.50" fill="#0000ff"/>
<line x1="618.50" y1="149.50" x2="602.16" y2="209.47" stroke="#ff0000" stroke-width="1.2"/><polygon points="600.69,205.75 605.32,207.01 600.90,214.10" fill="#ff0000"/>
<g transform="translate(445.74,20.1) scale(0.958,1.051)"><text style="font-size:18px">6</text></g>
<g transform="translate(455.79,22.8) scale(1.026,1.067)"><text style="font-size:12px">2</text></g>
<g transform="translate(446.33,59.7) scale(0.944,0.968)"><text style="font-size:18px">4</text></g>
<g transform="translate(456.12,63.8) scale(0.957,1.03)"><text style="font-size:12px">2</text></g>
<g transform="translate(531.24,83.7) scale(1.062,0.973)"><text style="font-size:18px">2</text></g>
<g transform="translate(541.44,87.5) scale(0.922,1.018)"><text style="font-size:12px">3</text></g>
<g transform="translate(618.58,144.6) scale(0.965,1.075)"><text style="font-size:18px">0</text></g>
<g transform="translate(628.47,147.6) scale(0.87,1.018)"><text style="font-size:12px">2</text></g>
<g transform="translate(531.45,209.6) scale(1.0,1.02)"><text style="font-size:18px">0</text></g>
<g transform="translate(541.0,212.8) scale(0.85,0.97)"><text style="font-size:12px">1</text></g>
<g transform="translate(497.82,23.3) scale(0.966,1.031)"><text style="font-size:16px;font-style:italic">1937</text></g>
<g transform="translate(497.83,64.0) scale(0.945,1.004)"><text style="font-size:16px;font-style:italic">1521</text></g>
<g transform="translate(565.03,87.0) scale(0.936,1.004)"><text style="font-size:16px;font-style:italic">1281</text></g>
<g transform="translate(650.28,147.6) scale(1.024,1.004)"><text style="font-size:16px;font-style:italic">662</text></g>
<g transform="translate(576.28,211.7) scale(1.087,0.942)"><text style="font-size:16px;font-style:italic">0</text></g>
<g transform="translate(490.38,45.0) scale(1.039,1.089)"><text fill="#0000ff" style="font-size:17px">416</text></g>
<g transform="translate(482.72,87.0) scale(1.033,1.115)"><text fill="#0000ff" style="font-size:17px">240</text></g>
<g transform="translate(614.72,120.1) scale(1.039,1.115)"><text fill="#0000ff" style="font-size:17px">619</text></g>
<g transform="translate(566.51,158.1) scale(0.948,1.14)"><text fill="#ff0000" style="font-size:17px">1281</text></g>
<g transform="translate(614.82,186.7) scale(1.036,1.055)"><text fill="#ff0000" style="font-size:17px">662</text></g>
<path d="M456.40,5.83H465.00M460.70,2.15V9.50" stroke="#000" stroke-width="1.15"/>
<path d="M456.60,46.55H465.40M461.00,42.70V50.40" stroke="#000" stroke-width="1.15"/>
<path d="M542.10,70.45H550.40M546.25,66.50V74.40" stroke="#000" stroke-width="1.15"/>
<path d="M628.60,130.50H637.40M633.00,126.60V134.40" stroke="#000" stroke-width="1.15"/>
<path d="M541.80,195.65H550.30M546.05,191.70V199.60" stroke="#000" stroke-width="1.15"/></svg>
</body></html>
